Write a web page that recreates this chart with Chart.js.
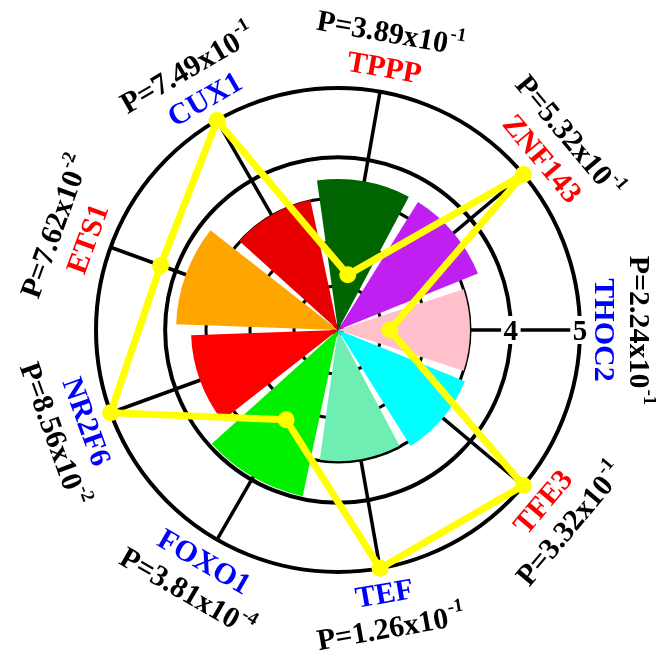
<!DOCTYPE html>
<html>
<head>
<meta charset="utf-8">
<script src="https://cdn.jsdelivr.net/npm/chart.js@4.4.1/dist/chart.umd.min.js"></script>
<style>
  html, body { margin: 0; padding: 0; background: #ffffff; }
  #wrap { position: relative; width: 656px; height: 657px; }
  #wrap canvas { position: absolute; left: 0; top: 0; }
</style>
</head>
<body>
<div id="wrap">
  <canvas id="gridLayer" width="656" height="657"></canvas>
  <canvas id="sectorLayer" width="656" height="657"></canvas>
  <canvas id="lineLayer" width="656" height="657"></canvas>
</div>
<script>
// Genes around the circle, clockwise from the top
const genes = ['TPPP', 'ZNF143', 'THOC2', 'TFE3', 'TEF', 'FOXO1', 'NR2F6', 'ETS1', 'CUX1'];
const geneColors = ['#FF0000', '#FF0000', '#0000FF', '#FF0000', '#0000FF', '#0000FF', '#0000FF', '#FF0000', '#0000FF'];
// P values as mantissa and power of ten
const pMantissa = ['3.89', '5.32', '2.24', '3.32', '1.26', '3.81', '8.56', '7.62', '7.49'];
const pExponent = ['-1', '-1', '-1', '-1', '-1', '-4', '-2', '-2', '-1'];
// Inner bars (polar area)
const sectorValues = [3.43, 3.43, 3.0, 3.11, 2.98, 3.86, 3.34, 3.68, 3.02];
const sectorColors = ['#006400', '#BF1FF0', '#FFC0CB', '#00FFFF', '#6FEEB4', '#00F000', '#FF0000', '#FFA500', '#E80000'];
const sectorTicks = [0, 1, 2, 3];
// Outer profile (yellow line)
const lineValues = [2.31, 5, 2.25, 5, 5, 3.0, 5, 4.23, 5];
const ringTicks = [4, 5];

const SERIF = '"Liberation Serif", "Times New Roman", serif';
const LABEL_FONT = 'bold 30px ' + SERIF;
const SUP_FONT = 'bold 19px ' + SERIF;
const PAD = { left: 96, right: 76, top: 88, bottom: 85 };
const TICK_AXIS = 2;       // axis on which the ring values are printed
const GENE_R = 267;        // radial distance of gene names
const PVAL_R = 302;        // radial distance of P values
const GAP_DEG = 2;         // angular gap trimmed from each side of a bar

const base = {
  responsive: false,
  animation: false,
  layout: { padding: PAD },
  plugins: { legend: { display: false }, tooltip: { enabled: false } }
};

// Prints the ring values on a white backdrop across the spoke
const ringLabels = {
  id: 'ringLabels',
  afterDraw(chart) {
    const s = chart.scales.r;
    const ctx = chart.ctx;
    ctx.save();
    ctx.font = 'bold 29px ' + SERIF;
    ctx.textAlign = 'center';
    ctx.textBaseline = 'alphabetic';
    ringTicks.forEach(v => {
      const p = s.getPointPosition(TICK_AXIS, s.getDistanceFromCenterForValue(v));
      const label = String(v);
      const w = ctx.measureText(label).width + 5;
      ctx.fillStyle = '#ffffff';
      ctx.fillRect(p.x - w / 2, p.y - 14, w, 28);
      ctx.fillStyle = '#000000';
      ctx.fillText(label, p.x, p.y + 10);
    });
    ctx.restore();
  }
};

// Separates neighbouring bars by a small angular gap
const sectorGap = {
  id: 'sectorGap',
  afterDatasetsUpdate(chart) {
    const trim = GAP_DEG * Math.PI / 180;
    chart.getDatasetMeta(0).data.forEach(arc => {
      arc.startAngle += trim;
      arc.endAngle -= trim;
    });
  }
};

// Gene names and P values written along the circle
const geneLabels = {
  id: 'geneLabels',
  afterDraw(chart) {
    const s = chart.scales.r;
    const ctx = chart.ctx;
    genes.forEach((g, i) => {
      const a = s.getIndexAngle(i);
      const deg = a * 180 / Math.PI;
      const flip = deg > 90.5 && deg < 269.5;
      const rot = flip ? a - Math.PI : a;

      const pg = s.getPointPosition(i, GENE_R);
      ctx.save();
      ctx.translate(pg.x, pg.y);
      ctx.rotate(rot);
      ctx.font = LABEL_FONT;
      ctx.textAlign = 'center';
      ctx.textBaseline = 'alphabetic';
      ctx.fillStyle = geneColors[i];
      ctx.fillText(g, 0, 10);
      ctx.restore();

      const pp = s.getPointPosition(i, PVAL_R);
      const main = 'P=' + pMantissa[i] + 'x10';
      const sup = pExponent[i];
      ctx.save();
      ctx.translate(pp.x, pp.y);
      ctx.rotate(rot);
      ctx.textAlign = 'left';
      ctx.textBaseline = 'alphabetic';
      ctx.fillStyle = '#000000';
      ctx.font = LABEL_FONT;
      const w1 = ctx.measureText(main).width;
      ctx.font = SUP_FONT;
      const w2 = ctx.measureText(sup).width;
      const x0 = -(w1 + w2) / 2;
      ctx.font = LABEL_FONT;
      ctx.fillText(main, x0, 10);
      ctx.font = SUP_FONT;
      ctx.fillText(sup, x0 + w1 + 1, -4);
      ctx.restore();
    });
  }
};

// Layer 1: rings and spokes of the outer profile scale
new Chart(document.getElementById('gridLayer'), {
  type: 'radar',
  data: {
    labels: genes,
    datasets: [{ data: lineValues, borderWidth: 0, pointRadius: 0,
                 borderColor: 'rgba(0,0,0,0)', backgroundColor: 'rgba(0,0,0,0)' }]
  },
  options: Object.assign({}, base, {
    scales: {
      r: {
        min: 1.5, max: 5, startAngle: 10,
        afterBuildTicks: s => { s.ticks = [1.5].concat(ringTicks).map(v => ({ value: v })); },
        ticks: { display: false },
        grid: { circular: true, color: '#000000', lineWidth: 4 },
        angleLines: { display: true, color: '#000000', lineWidth: 3.5 },
        pointLabels: { display: false }
      }
    }
  }),
  plugins: [ringLabels]
});

// Layer 2: coloured bars
new Chart(document.getElementById('sectorLayer'), {
  type: 'polarArea',
  data: {
    labels: genes,
    datasets: [{ data: sectorValues, backgroundColor: sectorColors, borderWidth: 0 }]
  },
  options: Object.assign({}, base, {
    scales: {
      r: {
        min: 0, max: 5.5, startAngle: -10,
        afterBuildTicks: s => { s.ticks = sectorTicks.map(v => ({ value: v })); },
        ticks: { display: false },
        grid: { circular: true, color: '#000000', lineWidth: 3 },
        angleLines: { display: false },
        pointLabels: { display: false }
      }
    }
  }),
  plugins: [sectorGap]
});

// Layer 3: yellow profile and labels
new Chart(document.getElementById('lineLayer'), {
  type: 'radar',
  data: {
    labels: genes,
    datasets: [{
      data: lineValues,
      borderColor: '#FFFF00',
      borderWidth: 7,
      backgroundColor: 'rgba(0,0,0,0)',
      fill: false,
      clip: false,
      pointRadius: 8.5,
      pointBackgroundColor: '#FFFF00',
      pointBorderWidth: 0
    }]
  },
  options: Object.assign({}, base, {
    elements: { line: { tension: 0, borderJoinStyle: 'round' } },
    scales: {
      r: {
        min: 1.5, max: 5, startAngle: 10,
        ticks: { display: false },
        grid: { display: false },
        angleLines: { display: false },
        pointLabels: { display: false }
      }
    }
  }),
  plugins: [geneLabels]
});
</script>
</body>
</html>
